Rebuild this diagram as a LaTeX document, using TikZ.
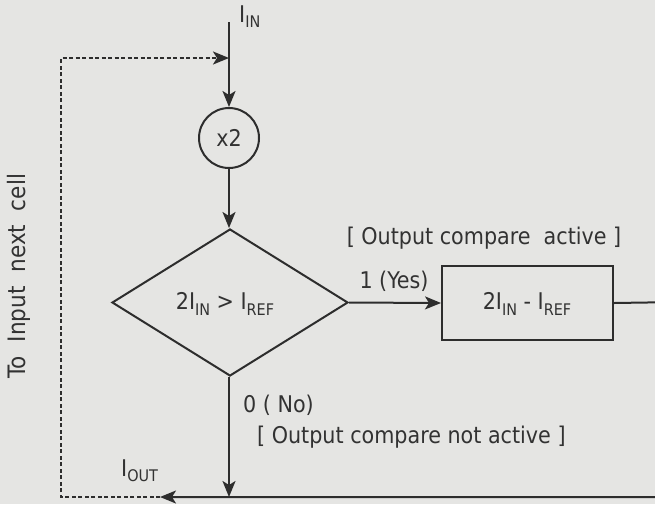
\documentclass[tikz,border=0pt]{standalone}
\usepackage{fontspec}
\setmainfont{DejaVu Sans Condensed}
\usetikzlibrary{arrows.meta,shapes.geometric}
\definecolor{bgc}{RGB}{229,229,227}
\definecolor{ink}{RGB}{45,45,45}
\definecolor{txt}{RGB}{50,50,50}
\newcommand\mysub[1]{\raisebox{-0.45ex}{\fontsize{16}{18}\selectfont #1}}
\begin{document}
\begin{tikzpicture}[x=1pt,y=-1pt,
  line/.style={draw=ink,line width=2pt},
  tip/.style={-{Stealth[length=16pt,width=13pt,inset=4pt]}},
  arr/.style={line,tip},
  dashline/.style={draw=ink,line width=2.2pt,dash pattern=on 4pt off 2.5pt},
  lbl/.style={text=txt,font=\fontsize{23}{27}\selectfont,inner sep=0pt},
  every node/.style={text=txt}]
\fill[bgc] (0,0) rectangle (655,504);
\useasboundingbox (0,0) rectangle (655,504);
% nodes
\coordinate (top) at (229,22);
\coordinate (junc) at (229,58);
\node[circle,draw=ink,line width=2pt,minimum size=60pt,inner sep=0pt,font=\fontsize{23}{27}\selectfont] (mul) at (229,138) {x2};
\node[diamond,draw=ink,line width=2pt,minimum width=236pt,minimum height=147pt,inner sep=0pt,aspect=1.6] (cmp) at (230,302.5) {};
\node[lbl] (cmptxt) at (225,304) {2I\mysub{IN} > I\mysub{REF}};
\node[rectangle,draw=ink,line width=2pt,minimum width=171pt,minimum height=74pt,inner sep=0pt] (box) at (527.5,303) {};
\node[lbl] (boxtxt) at (527,304) {2I\mysub{IN} - I\mysub{REF}};
\coordinate (bot) at (229,497);
\coordinate (iout) at (160,497);
\coordinate (cornerbl) at (61,497);
\coordinate (cornertl) at (61,58);
\coordinate (farright) at (680,302);
% labels
\node[lbl,anchor=base west] (iin) at (239,22) {I\mysub{IN}};
\node[lbl,anchor=base west] (ioutl) at (121,476) {I\mysub{OUT}};
\node[lbl] (yes) at (394,281) {1 (Yes)};
\node[lbl] (act) at (484,238) {[ Output compare \ active ]};
\node[lbl,anchor=west] (no) at (243,405) {0 ( No)};
\node[lbl,anchor=west] (nact) at (257,437) {[ Output compare not active ]};
\node[lbl,rotate=90,font=\fontsize{24}{28}\selectfont] (next) at (19,276) {To \ Input \ next \ cell};
% connectors
\draw[arr] (top) -- (mul.north);
\draw[arr] (mul.south) -- (cmp.north -| mul.south);
\draw[arr] (cmp.east) -- (box.west);
\draw[arr] (cmp.south -| top) -- (bot);
\draw[arr] (box.east) -- (farright) |- (iout);
\draw[dashline,tip] (iout) -- (cornerbl) -- (cornertl) -- (junc);
\end{tikzpicture}
\end{document}
